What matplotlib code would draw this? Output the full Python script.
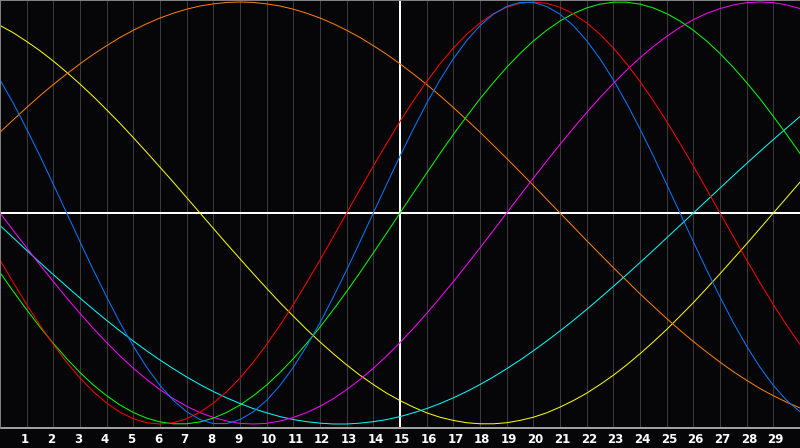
import matplotlib
matplotlib.use("Agg")
import matplotlib.pyplot as plt
import matplotlib.transforms as mtransforms

# days sampled every half day, 0 .. 30
days = [i / 2 for i in range(61)]
tick_days = list(range(1, 30))
tick_labels = [str(d) for d in tick_days]
today = 15

yellow = [0.889, 0.854, 0.813, 0.769, 0.720, 0.667, 0.611, 0.552, 0.489, 0.425, 0.357, 0.288, 0.217, 0.146,
          0.073, 0.000, -0.073, -0.146, -0.217, -0.288, -0.357, -0.425, -0.489, -0.552, -0.611, -0.667, -0.720,
          -0.769, -0.813, -0.854, -0.889, -0.920, -0.947, -0.968, -0.983, -0.994, -0.999, -0.999, -0.994,
          -0.983, -0.968, -0.947, -0.920, -0.889, -0.854, -0.813, -0.769, -0.720, -0.667, -0.611, -0.552,
          -0.489, -0.425, -0.357, -0.288, -0.217, -0.146, -0.073, 0.000, 0.073, 0.146]
orange = [0.383, 0.442, 0.500, 0.556, 0.609, 0.659, 0.707, 0.752, 0.793, 0.832, 0.866, 0.897, 0.924, 0.947,
          0.966, 0.981, 0.991, 0.998, 1.000, 0.998, 0.991, 0.981, 0.966, 0.947, 0.924, 0.897, 0.866, 0.832,
          0.793, 0.752, 0.707, 0.659, 0.609, 0.556, 0.500, 0.442, 0.383, 0.321, 0.259, 0.195, 0.131, 0.065,
          0.000, -0.065, -0.131, -0.195, -0.259, -0.321, -0.383, -0.442, -0.500, -0.556, -0.609, -0.659,
          -0.707, -0.752, -0.793, -0.832, -0.866, -0.897, -0.924]
red = [-0.223, -0.330, -0.434, -0.532, -0.623, -0.707, -0.782, -0.847, -0.901, -0.944, -0.975, -0.994, -1.000,
       -0.994, -0.975, -0.944, -0.901, -0.847, -0.782, -0.707, -0.623, -0.532, -0.434, -0.330, -0.223, -0.112,
       0.000, 0.112, 0.223, 0.330, 0.434, 0.532, 0.623, 0.707, 0.782, 0.847, 0.901, 0.944, 0.975, 0.994,
       1.000, 0.994, 0.975, 0.944, 0.901, 0.847, 0.782, 0.707, 0.623, 0.532, 0.434, 0.330, 0.223, 0.112,
       0.000, -0.112, -0.223, -0.330, -0.434, -0.532, -0.623]
blue = [0.631, 0.520, 0.398, 0.270, 0.136, 0.000, -0.136, -0.270, -0.398, -0.520, -0.631, -0.731, -0.817,
        -0.888, -0.942, -0.979, -0.998, -0.998, -0.979, -0.942, -0.888, -0.817, -0.731, -0.631, -0.520,
        -0.398, -0.270, -0.136, 0.000, 0.136, 0.270, 0.398, 0.520, 0.631, 0.731, 0.817, 0.888, 0.942, 0.979,
        0.998, 0.998, 0.979, 0.942, 0.888, 0.817, 0.731, 0.631, 0.520, 0.398, 0.270, 0.136, 0.000, -0.136,
        -0.270, -0.398, -0.520, -0.631, -0.731, -0.817, -0.888, -0.942]
green = [-0.282, -0.372, -0.458, -0.541, -0.618, -0.690, -0.756, -0.815, -0.866, -0.910, -0.945, -0.972,
         -0.990, -0.999, -0.999, -0.990, -0.972, -0.945, -0.910, -0.866, -0.815, -0.756, -0.690, -0.618,
         -0.541, -0.458, -0.372, -0.282, -0.189, -0.095, 0.000, 0.095, 0.189, 0.282, 0.372, 0.458, 0.541,
         0.618, 0.690, 0.756, 0.815, 0.866, 0.910, 0.945, 0.972, 0.990, 0.999, 0.999, 0.990, 0.972, 0.945,
         0.910, 0.866, 0.815, 0.756, 0.690, 0.618, 0.541, 0.458, 0.372, 0.282]
magenta = [0.000, -0.083, -0.165, -0.246, -0.325, -0.402, -0.476, -0.547, -0.614, -0.677, -0.736, -0.789,
           -0.837, -0.880, -0.916, -0.946, -0.969, -0.986, -0.997, -1.000, -0.997, -0.986, -0.969, -0.946,
           -0.916, -0.880, -0.837, -0.789, -0.736, -0.677, -0.614, -0.547, -0.476, -0.402, -0.325, -0.246,
           -0.165, -0.083, 0.000, 0.083, 0.165, 0.246, 0.325, 0.402, 0.476, 0.547, 0.614, 0.677, 0.736, 0.789,
           0.837, 0.880, 0.916, 0.946, 0.969, 0.986, 0.997, 1.000, 0.997, 0.986, 0.969]
cyan = [-0.059, -0.118, -0.177, -0.235, -0.292, -0.348, -0.403, -0.457, -0.509, -0.559, -0.607, -0.653,
        -0.697, -0.738, -0.777, -0.813, -0.846, -0.876, -0.903, -0.927, -0.947, -0.965, -0.979, -0.989,
        -0.996, -1.000, -1.000, -0.996, -0.989, -0.979, -0.965, -0.947, -0.927, -0.903, -0.876, -0.846,
        -0.813, -0.777, -0.738, -0.697, -0.653, -0.607, -0.559, -0.509, -0.457, -0.403, -0.348, -0.292,
        -0.235, -0.177, -0.118, -0.059, 0.000, 0.059, 0.118, 0.177, 0.235, 0.292, 0.348, 0.403, 0.457]

series = [
    (yellow, "#ffff00"),
    (orange, "#ff8000"),
    (cyan, "#00ffff"),
    (magenta, "#ff00ff"),
    (green, "#00ff00"),
    (red, "#ff0000"),
    (blue, "#0a78ff"),
]

BG = "#060608"
W, H, DPI = 800, 448, 100
fig = plt.figure(figsize=(W / DPI, H / DPI), dpi=DPI, facecolor=BG)
plot_h = 428
ax = fig.add_axes([0, (H - plot_h) / H, 1, plot_h / H])
ax.set_facecolor(BG)

center = 213.0
amp = 211.0
ax.set_xlim(0, 30)
ax.set_ylim(-(plot_h - center) / amp, center / amp)

px = 72.0 / DPI
for d in tick_days:
    ax.axvline(d, color="#3a3a3a", lw=px, antialiased=False, zorder=1)

ax.axhline(0, color="#ffffff", lw=1.6 * px, antialiased=False, zorder=2)
ax.axvline(today, color="#ffffff", lw=1.6 * px, antialiased=False, zorder=2)

for vals, col in series:
    ax.plot(days, vals, color=col, lw=1.0 * px, antialiased=True, zorder=3,
            solid_joinstyle="round")

for s in ax.spines.values():
    s.set_visible(False)
ax.axhline(ax.get_ylim()[0], color="#a0a0a0", lw=2 * px, zorder=4, clip_on=False)
ax.axhline(ax.get_ylim()[1], color="#808080", lw=2 * px, zorder=4, clip_on=False)
ax.axvline(0, color="#808080", lw=2 * px, zorder=4, clip_on=False)

ax.set_xticks([])
ax.set_yticks([])

trans = mtransforms.offset_copy(ax.get_xaxis_transform(), fig=fig, x=-6, y=0, units="dots")
label_y = (plot_h - 439) / plot_h
for d, lab in zip(tick_days, tick_labels):
    ax.text(d, label_y, lab, transform=trans, ha="left", va="center", color="white",
            fontsize=8.5, fontweight="bold", family="DejaVu Sans", clip_on=False)

fig.savefig("out.png", dpi=DPI, facecolor=BG)
